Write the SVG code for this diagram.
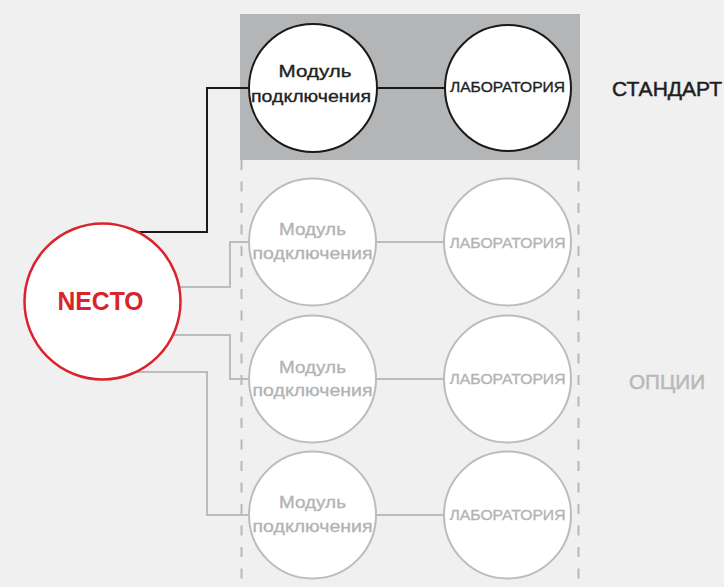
<svg xmlns="http://www.w3.org/2000/svg" width="724" height="587" viewBox="0 0 724 587">
<style>
.bg{fill:#f0f0f0}
.panel{fill:#b4b5b7}
.dash{stroke:#b8b8b8;stroke-width:2;stroke-dasharray:10 11.5;fill:none}
.cb{fill:#fff;stroke:#1a1a1a;stroke-width:2}
.cg{fill:#fff;stroke:#bcbcbc;stroke-width:2}
.cr{fill:#fff;stroke:#d9232d;stroke-width:2.5}
.lb{stroke:#1a1a1a;stroke-width:2;fill:none}
.lg{stroke:#bcbcbc;stroke-width:2;fill:none}
text{font-family:"Liberation Sans",Arial,sans-serif;text-anchor:middle}
.tb{fill:#222;stroke:#222;stroke-width:0.35;font-size:17px}
.tg{fill:#b3b3b3;stroke:#b3b3b3;stroke-width:0.35;font-size:17px}
.lab{font-size:15px}
.necto{fill:#d9232d;font-size:25px;font-weight:bold}
.side{font-size:21px;text-anchor:start;stroke-width:0.5}
</style>
<rect class="bg" x="0" y="0" width="724" height="587"/>
<rect class="panel" x="240" y="14" width="340" height="146"/>
<g id="dashes">
<line class="dash" x1="241.5" y1="160" x2="241.5" y2="587"/>
<line class="dash" x1="578.5" y1="160" x2="578.5" y2="587"/>
</g>
<g id="connectors">
<polyline class="lb" points="138,232 207,232 207,88 249,88"/>
<line class="lb" x1="377" y1="88" x2="445" y2="88"/>
<polyline class="lg" points="179,287 230,287 230,242 249,242"/>
<polyline class="lg" points="173,335 230,335 230,379 249,379"/>
<polyline class="lg" points="136,372 207,372 207,515 249,515"/>
<line class="lg" x1="376" y1="242" x2="444" y2="242"/>
<line class="lg" x1="376" y1="379" x2="444" y2="379"/>
<line class="lg" x1="376" y1="515" x2="444" y2="515"/>
</g>
<g id="necto">
<circle class="cr" cx="102.5" cy="301.5" r="78"/>
<text class="necto" x="100.5" y="309.5" textLength="86" lengthAdjust="spacingAndGlyphs">NECTO</text>
</g>
<g id="std-module">
<circle class="cb" cx="313" cy="88" r="64"/>
<text class="tb" x="315" y="77" textLength="73" lengthAdjust="spacingAndGlyphs">Модуль</text>
<text class="tb" x="311" y="102" textLength="120" lengthAdjust="spacingAndGlyphs">подключения</text>
</g>
<g id="std-lab">
<circle class="cb" cx="508" cy="88" r="63"/>
<text class="tb lab" x="507.5" y="91.5" textLength="115" lengthAdjust="spacingAndGlyphs">ЛАБОРАТОРИЯ</text>
</g>
<g id="opt1-module">
<circle class="cg" cx="312.5" cy="242" r="63.5"/>
<text class="tg" x="312.5" y="235" textLength="67" lengthAdjust="spacingAndGlyphs">Модуль</text>
<text class="tg" x="312.5" y="259" textLength="120" lengthAdjust="spacingAndGlyphs">подключения</text>
</g>
<g id="opt1-lab">
<circle class="cg" cx="507.5" cy="242" r="63.5"/>
<text class="tg lab" x="507.5" y="247.5" textLength="116" lengthAdjust="spacingAndGlyphs">ЛАБОРАТОРИЯ</text>
</g>
<g id="opt2-module">
<circle class="cg" cx="312.5" cy="379" r="63.5"/>
<text class="tg" x="312.5" y="372.5" textLength="67" lengthAdjust="spacingAndGlyphs">Модуль</text>
<text class="tg" x="312.5" y="396" textLength="120" lengthAdjust="spacingAndGlyphs">подключения</text>
</g>
<g id="opt2-lab">
<circle class="cg" cx="507.5" cy="379" r="63.5"/>
<text class="tg lab" x="507.5" y="383.5" textLength="116" lengthAdjust="spacingAndGlyphs">ЛАБОРАТОРИЯ</text>
</g>
<g id="opt3-module">
<circle class="cg" cx="312.5" cy="515" r="63.5"/>
<text class="tg" x="312.5" y="508" textLength="67" lengthAdjust="spacingAndGlyphs">Модуль</text>
<text class="tg" x="312.5" y="532" textLength="120" lengthAdjust="spacingAndGlyphs">подключения</text>
</g>
<g id="opt3-lab">
<circle class="cg" cx="507.5" cy="515" r="63.5"/>
<text class="tg lab" x="507.5" y="519.5" textLength="116" lengthAdjust="spacingAndGlyphs">ЛАБОРАТОРИЯ</text>
</g>
<g id="labels">
<text class="side" x="612" y="96" fill="#1e1e1e" stroke="#1e1e1e" textLength="110" lengthAdjust="spacingAndGlyphs">СТАНДАРТ</text>
<text class="side" x="629" y="389" fill="#b8b8b8" stroke="#b8b8b8" textLength="76" lengthAdjust="spacingAndGlyphs">ОПЦИИ</text>
</g>
</svg>
